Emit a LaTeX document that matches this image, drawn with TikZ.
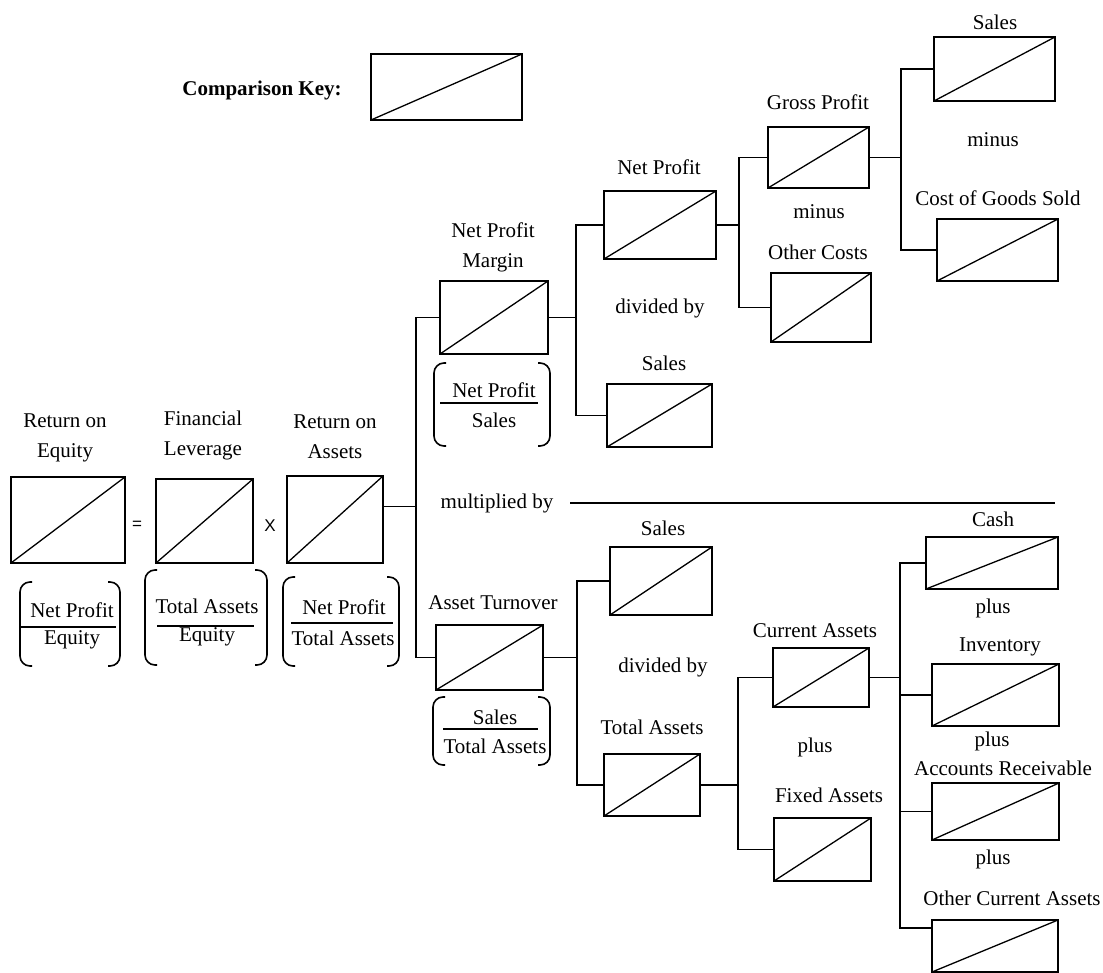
\documentclass[tikz,border=0pt]{standalone}
\usepackage{fontspec}
\setmainfont{Liberation Serif}
\newfontfamily\arialfont{Liberation Sans}

\tikzset{
  cmp/.style={draw, line width=1.6pt, inner sep=0pt,
    path picture={\draw[line width=1.3pt] (path picture bounding box.south west) -- (path picture bounding box.north east);}},
  sz/.style 2 args={minimum width=#1pt, minimum height=#2pt},
  lbl/.style={font=\fontsize{21}{30}\selectfont, align=center, inner sep=0pt},
  opsym/.style={font=\arialfont\fontsize{17}{20}\selectfont, inner sep=0pt},
  conn/.style={line width=1.6pt},
  paren/.style={line width=1.6pt, rounded corners=10pt},
}

\begin{document}
\begin{tikzpicture}[x=1pt, y=-1pt]
  \useasboundingbox (0,0) rectangle (1103,973);

  % Comparison key
  \node[lbl, font=\fontsize{21}{30}\selectfont\bfseries] (keyT) at (262,90) {Comparison Key:};
  \node[cmp, sz={151}{66}] (key) at (446.5,87) {};

  % Return on equity = leverage x return on assets
  \node[cmp, sz={114}{86}] (roe) at (68,520) {};
  \node[cmp, sz={97}{84}] (lev) at (204.5,521) {};
  \node[cmp, sz={96}{87}] (roa) at (335,519.5) {};
  \node[lbl] (roeT) at (65,438) {Return on\\Equity};
  \node[lbl] (levT) at (203,435) {Financial\\Leverage};
  \node[lbl] (roaT) at (335,436.5) {Return on\\Assets};
  \node[opsym] (eq) at (137,525) {=};
  \node[opsym] (times) at (270,526) {X};

  % Ratios under the boxes
  \node[lbl] (roeN) at (72,610) {Net Profit};
  \node[lbl] (roeD) at (72,640) {Equity};
  \draw[conn] (19,627) -- (116,627);
  \node[lbl] (levN) at (207,606) {Total Assets};
  \node[lbl] (levD) at (207,637) {Equity};
  \draw[conn] (157,626) -- (254,626);
  \node[lbl] (roaN) at (344,607) {Net Profit};
  \node[lbl] (roaD) at (343,638) {Total Assets};
  \draw[conn] (291,623) -- (393,623);
  \node[lbl] (npmN) at (494,390) {Net Profit};
  \node[lbl] (npmD) at (494,420) {Sales};
  \draw[conn] (440,403) -- (538,403);
  \node[lbl] (atN) at (495,717) {Sales};
  \node[lbl] (atD) at (495,746) {Total Assets};
  \draw[conn] (443,729) -- (538,729);

  % Round brackets around the ratios
  \foreach \xa/\xb/\ya/\yb in {20/120/582/666, 145/267/570/665, 283/399/577/666,
                               434/550/363/446, 433/550/697/765}{
    \draw[paren] (\xa+12,\ya) -- (\xa,\ya) -- (\xa,\yb) -- (\xa+12,\yb);
    \draw[paren] (\xb-12,\ya) -- (\xb,\ya) -- (\xb,\yb) -- (\xb-12,\yb);
  }

  % Net profit margin branch
  \node[cmp, sz={108}{73}] (npm) at (494,317.5) {};
  \node[lbl] (npmT) at (493,247.5) {Net Profit\\Margin};
  \node[cmp, sz={112}{68}] (np) at (660,225) {};
  \node[lbl] (npT) at (659,167) {Net Profit};
  \node[lbl] (divA) at (660,308) {divided by};
  \node[cmp, sz={105}{63}] (salesA) at (659.5,415.5) {};
  \node[lbl] (salesAT) at (664,363) {Sales};
  \node[cmp, sz={101}{61}] (gp) at (818.5,157.5) {};
  \node[lbl] (gpT) at (818,102) {Gross Profit};
  \node[lbl] (minusA) at (819,212) {minus};
  \node[cmp, sz={100}{69}] (oc) at (821,307.5) {};
  \node[lbl] (ocT) at (818,252) {Other Costs};
  \node[cmp, sz={121}{64}] (salesB) at (994.5,69) {};
  \node[lbl] (salesBT) at (995,22) {Sales};
  \node[lbl] (minusB) at (993,140) {minus};
  \node[cmp, sz={121}{62}] (cogs) at (997.5,250) {};
  \node[lbl] (cogsT) at (998,198) {Cost of Goods Sold};

  % multiplied by
  \node[lbl] (mult) at (497,503) {multiplied by};
  \draw[conn] (570,503) -- (1055,503);

  % Asset turnover branch
  \node[cmp, sz={107}{65}] (at) at (489.5,657.5) {};
  \node[lbl] (atT) at (493,603) {Asset Turnover};
  \node[cmp, sz={102}{68}] (salesC) at (661,581) {};
  \node[lbl] (salesCT) at (663,528) {Sales};
  \node[lbl] (divB) at (663,667) {divided by};
  \node[cmp, sz={96}{62}] (ta) at (652,785) {};
  \node[lbl] (taT) at (652,727) {Total Assets};
  \node[cmp, sz={96}{59}] (ca) at (821,677.5) {};
  \node[lbl] (caT) at (815,631) {Current Assets};
  \node[lbl] (plusA) at (815,747) {plus};
  \node[cmp, sz={97}{63}] (fa) at (822.5,849.5) {};
  \node[lbl] (faT) at (829,795) {Fixed Assets};
  \node[cmp, sz={132}{52}] (cash) at (992,563) {};
  \node[lbl] (cashT) at (993,519) {Cash};
  \node[lbl] (plusB) at (993,608) {plus};
  \node[cmp, sz={127}{62}] (inv) at (995.5,695) {};
  \node[lbl] (invT) at (1000,647) {Inventory};
  \node[lbl] (plusC) at (992,741) {plus};
  \node[cmp, sz={127}{57}] (ar) at (995.5,811.5) {};
  \node[lbl] (arT) at (1003,768) {Accounts Receivable};
  \node[lbl] (plusD) at (993,859) {plus};
  \node[cmp, sz={126}{52}] (oca) at (995,946) {};
  \node[lbl] (ocaT) at (1012,898) {Other Current Assets};

  % Tree connectors
  \coordinate (busR) at (416,0);
  \coordinate (busN) at (576,0);
  \coordinate (busP) at (739,0);
  \coordinate (busG) at (901,0);
  \coordinate (busA) at (577,0);
  \coordinate (busT) at (738,0);
  \coordinate (busC) at (900,0);
  \coordinate (roaOut) at ([yshift=13pt]roa.east);
  \coordinate (ocaIn) at ([yshift=18pt]oca.west);

  \draw[conn] (roaOut) -- (roaOut -| busR);
  \draw[conn] (npm.west) -| (busR |- at.west) -- (at.west);

  \draw[conn] (npm.east) -- (npm.east -| busN);
  \draw[conn] (np.west) -| (busN |- salesA.west) -- (salesA.west);

  \draw[conn] (np.east) -- (np.east -| busP);
  \draw[conn] (gp.west) -| (busP |- oc.west) -- (oc.west);

  \draw[conn] (gp.east) -- (gp.east -| busG);
  \draw[conn] (salesB.west) -| (busG |- cogs.west) -- (cogs.west);

  \draw[conn] (at.east) -- (at.east -| busA);
  \draw[conn] (salesC.west) -| (busA |- ta.west) -- (ta.west);

  \draw[conn] (ta.east) -- (ta.east -| busT);
  \draw[conn] (ca.west) -| (busT |- fa.west) -- (fa.west);

  \draw[conn] (ca.east) -- (ca.east -| busC);
  \draw[conn] (cash.west) -| (busC |- ocaIn) -- (ocaIn);
  \draw[conn] (inv.west) -- (inv.west -| busC);
  \draw[conn] (ar.west) -- (ar.west -| busC);
\end{tikzpicture}
\end{document}
